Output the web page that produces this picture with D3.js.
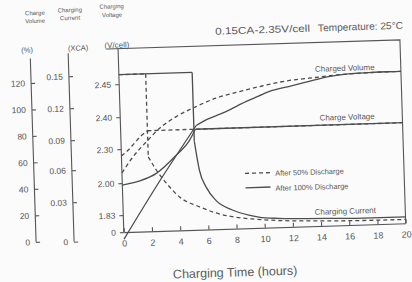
<!DOCTYPE html>
<html>
<head>
<meta charset="utf-8">
<script src="https://cdn.jsdelivr.net/npm/d3@7"></script>
<style>
  html, body { margin: 0; padding: 0; background: #fbfbfb; }
  svg { display: block; font-family: "Liberation Sans", Arial, sans-serif; }
  .axis text { fill: #555; font-size: 8.5px; font-family: "Liberation Sans", Arial, sans-serif; }
  .axis line, .axis path { stroke: #555; stroke-width: 1.1; }
  .frame { fill: none; stroke: #555; stroke-width: 1.1; }
  .curve { fill: none; stroke: #4d4d4d; stroke-width: 1.3; }
  .dashed { stroke-dasharray: 4,3; }
  .note { fill: #5a5a5a; }
</style>
</head>
<body>
<svg id="chart"></svg>
<script>
var hourTicks = [0, 2, 4, 6, 8, 10, 12, 14, 16, 18, 20],
	volumeTicks = [0, 20, 40, 60, 80, 100, 120],
	currentTicks = [0, 0.03, 0.06, 0.09, 0.12, 0.15],
	voltageTicks = [0, 1.83, 2.00, 2.30, 2.40, 2.45];

// [hours, value]
var volume100 = [[0, 0], [2.66, 43], [5.37, 84], [6.08, 88], [7.51, 93.8], [8.94, 100.8], [9.89, 104.8],
		[10.6, 107.8], [12, 111.2], [13.4, 114.4], [14.86, 117.7], [16.27, 119.3], [17.68, 119.8], [19.1, 120], [20, 120]],
	volume50 = [[0, 50], [0.83, 62], [1.81, 73], [2.77, 82.8], [3.98, 91.2], [5.41, 98.3], [6.83, 104.2],
		[8.49, 108.5], [9.92, 111.8], [12, 115.7], [13.45, 117], [16.3, 119.3], [18, 119.8], [20, 120]],
	voltage100 = [[0, 1.99], [1.25, 2.015], [2.44, 2.077], [3.89, 2.232], [4.86, 2.321], [5.3, 2.355], [20, 2.355]],
	voltage50 = [[0, 2.24], [0.5, 2.29], [1.0, 2.32], [1.5, 2.342], [1.9, 2.355], [20, 2.355]],
	current100 = [[0, 0.15], [5.2, 0.15], [5.2, 0.085], [5.5, 0.056], [5.95, 0.040], [6.6, 0.028], [7.7, 0.0205],
		[8.9, 0.016], [9.6, 0.0143], [11, 0.0128], [13, 0.012], [15, 0.0115], [17, 0.011], [20, 0.011]],
	current50 = [[0, 0.15], [1.9, 0.15], [1.9, 0.071], [2.45, 0.0575], [3.13, 0.045], [4.03, 0.0318], [5.42, 0.0235],
		[6.58, 0.0184], [7.72, 0.0152], [9.13, 0.013], [11, 0.0112], [13, 0.0102], [15, 0.0096], [17, 0.0092], [20, 0.009]];

var width = 412, height = 282;
var svg = d3.select("#chart").attr("width", width).attr("height", height);
// the scanned sheet sits slightly tilted
var g = svg.append("g").attr("transform", "rotate(-1.8,206,141)");

var x = d3.scaleLinear().domain([0, 20]).range([121, 403]),
	yVolume = d3.scaleLinear().domain([0, 120]).range([236.5, 77.5]),
	yCurrent = d3.scaleLinear().domain(currentTicks).range([237.5, 198, 166, 136, 104, 72]),
	yVoltage = d3.scaleLinear().domain(voltageTicks).range([229.5, 212.5, 180.5, 146.5, 114.5, 81.5]);

var fmt2 = function(d) { return d === 0 ? "0" : d.toFixed(2); };

//frame
g.append("path").attr("class", "frame").attr("d", "M110,46H" + x(20) + "V229.5");

//axes
g.append("g")
	.attr("class", "axis")
	.attr("transform", "translate(0,229.5)")
	.call(d3.axisBottom(x).tickValues(hourTicks).tickSizeInner(-4).tickSizeOuter(0).tickPadding(8))
	.selectAll("text").style("font-size", "9px");

var vAxis = g.append("g")
	.attr("class", "axis")
	.attr("transform", "translate(121,0)")
	.call(d3.axisLeft(yVoltage).tickValues(voltageTicks).tickFormat(fmt2).tickSizeInner(4).tickSizeOuter(0).tickPadding(4));
vAxis.select(".domain").remove();
vAxis.append("line").attr("y1", 46).attr("y2", 229.5);

var volAxis = g.append("g")
	.attr("class", "axis")
	.attr("transform", "translate(33,0)")
	.call(d3.axisLeft(yVolume).tickValues(volumeTicks).tickSizeInner(-4).tickPadding(6));
volAxis.select(".domain").remove();
volAxis.append("line").attr("y1", 53).attr("y2", yVolume(0));

var curAxis = g.append("g")
	.attr("class", "axis")
	.attr("transform", "translate(71,0)")
	.call(d3.axisLeft(yCurrent).tickValues(currentTicks).tickFormat(fmt2).tickSizeInner(-4).tickPadding(6));
curAxis.select(".domain").remove();
curAxis.append("line").attr("y1", 49).attr("y2", yCurrent(0));

//curves, split at corners so the smooth parts keep sharp joins
var drawSeries = function(data, yScale, breaks, dashed) {
	var cuts = [0].concat(breaks, [data.length - 1]);
	for (var i = 0; i < cuts.length - 1; i++) {
		var part = data.slice(cuts[i], cuts[i + 1] + 1);
		var lineFunc = d3.line()
			.x(function(d) { return x(d[0]); })
			.y(function(d) { return yScale(d[1]); })
			.curve(part.length > 2 ? d3.curveMonotoneX : d3.curveLinear);
		g.append("path")
			.attr("class", "curve" + (dashed ? " dashed" : ""))
			.attr("d", lineFunc(part));
	}
};

drawSeries(current100, yCurrent, [1, 2], false);
drawSeries(current50, yCurrent, [1, 2], true);
drawSeries(volume100, yVolume, [2], false);
drawSeries(volume50, yVolume, [], true);
drawSeries(voltage100, yVoltage, [5], false);
drawSeries(voltage50, yVoltage, [4], true);

//texts
var note = function(txt, px, py, size, anchor) {
	return g.append("text")
		.attr("class", "note")
		.attr("x", px).attr("y", py).attr("dy", "0.35em")
		.attr("text-anchor", anchor || "middle")
		.style("font-size", size + "px")
		.text(txt);
};

note("Charge", 39, 7.6, 6);
note("Volume", 39, 15.6, 6);
note("Charging", 74, 5.7, 6);
note("Current", 74, 13.7, 6);
note("Charging", 116, 3.5, 6);
note("Voltage", 116, 12, 6);

note("(%)", 30, 44.4, 7.5);
note("(XCA)", 81, 44, 7.5);
note("(V/cell)", 120, 42.2, 8);

note("0.15CA-2.35V/cell", 266, 31.5, 10).attr("textLength", 95).attr("lengthAdjust", "spacingAndGlyphs");
note("Temperature: 25\u00b0C", 364, 31.5, 10).attr("textLength", 85).attr("lengthAdjust", "spacingAndGlyphs");

note("Charged Volume", 347, 72.4, 8);
note("Charge Voltage", 347.8, 121.4, 8);
note("Charging Current", 343, 215.4, 8);

g.append("line").attr("class", "curve dashed").attr("x1", 244).attr("x2", 269).attr("y1", 174.6).attr("y2", 174.6);
g.append("line").attr("class", "curve").attr("x1", 244).attr("x2", 269).attr("y1", 189).attr("y2", 189);
note("After 50% Discharge", 274, 175.3, 7.5, "start");
note("After 100% Discharge", 274, 190.4, 7.5, "start");

note("Charging Time (hours)", 231, 273, 12.5);
</script>
</body>
</html>
